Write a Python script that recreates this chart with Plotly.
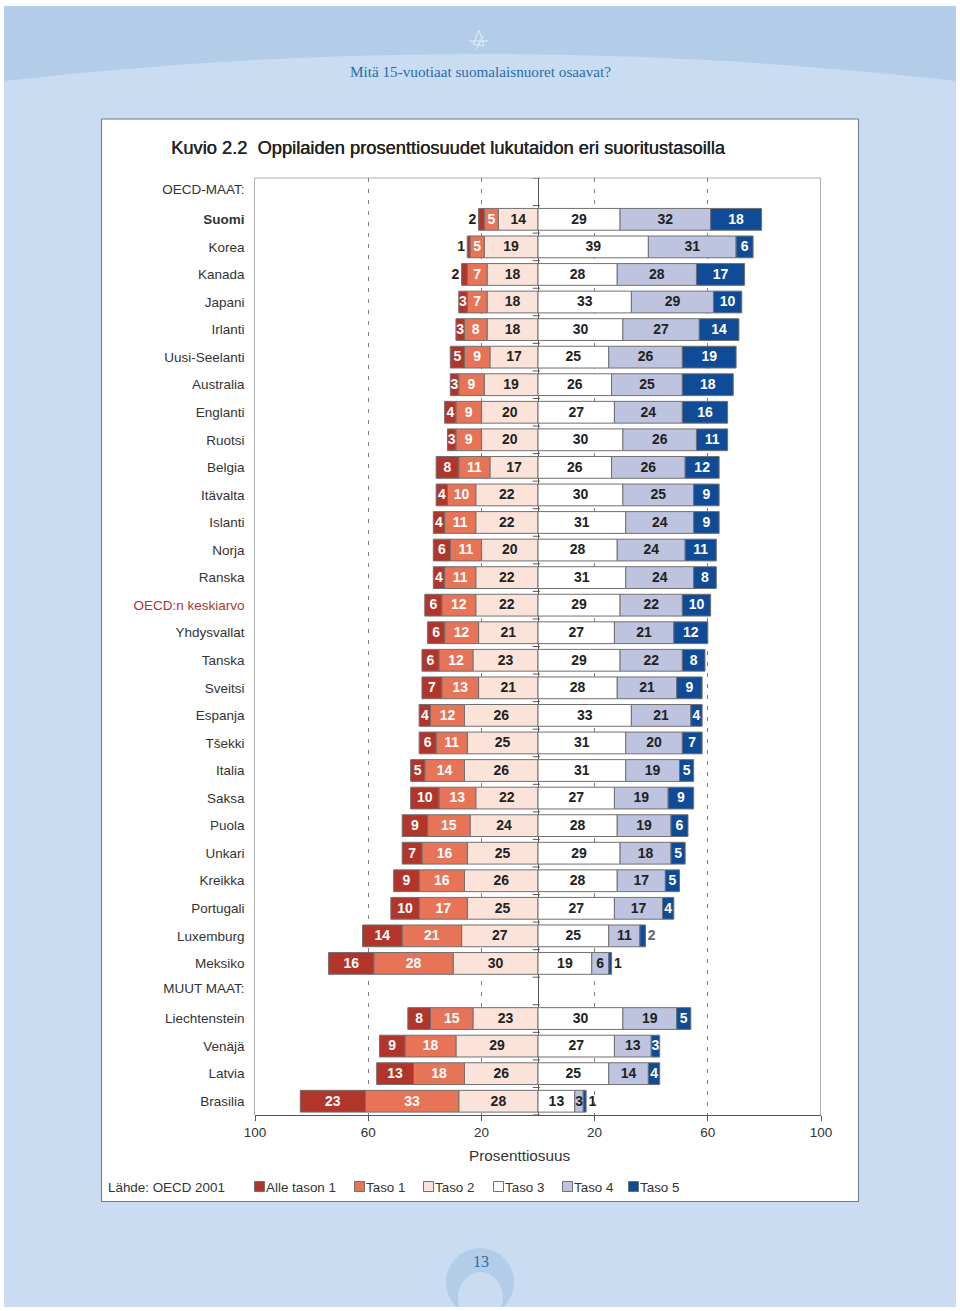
import plotly.graph_objects as go

countries = ["Suomi", "Korea", "Kanada", "Japani", "Irlanti", "Uusi-Seelanti", "Australia", "Englanti", "Ruotsi", "Belgia",
             "Itävalta", "Islanti", "Norja", "Ranska", "OECD:n keskiarvo", "Yhdysvallat", "Tanska", "Sveitsi", "Espanja",
             "Tšekki", "Italia", "Saksa", "Puola", "Unkari", "Kreikka", "Portugali", "Luxemburg", "Meksiko",
             "Liechtenstein", "Venäjä", "Latvia", "Brasilia"]
alle_tason_1 = [2, 1, 2, 3, 3, 5, 3, 4, 3, 8, 4, 4, 6, 4, 6, 6, 6, 7, 4, 6, 5, 10, 9, 7, 9, 10, 14, 16, 8, 9, 13, 23]
taso_1 = [5, 5, 7, 7, 8, 9, 9, 9, 9, 11, 10, 11, 11, 11, 12, 12, 12, 13, 12, 11, 14, 13, 15, 16, 16, 17, 21, 28, 15, 18, 18, 33]
taso_2 = [14, 19, 18, 18, 18, 17, 19, 20, 20, 17, 22, 22, 20, 22, 22, 21, 23, 21, 26, 25, 26, 22, 24, 25, 26, 25, 27, 30, 23, 29, 26, 28]
taso_3 = [29, 39, 28, 33, 30, 25, 26, 27, 30, 26, 30, 31, 28, 31, 29, 27, 29, 28, 33, 31, 31, 27, 28, 29, 28, 27, 25, 19, 30, 27, 25, 13]
taso_4 = [32, 31, 28, 29, 27, 26, 25, 24, 26, 26, 25, 24, 24, 24, 22, 21, 22, 21, 21, 20, 19, 19, 19, 18, 17, 17, 11, 6, 19, 13, 14, 3]
taso_5 = [18, 6, 17, 10, 14, 19, 18, 16, 11, 12, 9, 9, 11, 8, 10, 12, 8, 9, 4, 7, 5, 9, 6, 5, 5, 4, 2, 1, 5, 3, 4, 1]
series_names = ["Alle tason 1", "Taso 1", "Taso 2", "Taso 3", "Taso 4", "Taso 5"]
tick_values = [-100, -60, -20, 20, 60, 100]
tick_labels = ["100", "60", "20", "20", "60", "100"]

W, H = 960, 1311
FONT = "Liberation Sans"
COLORS = ["#B2352B", "#E87458", "#FBE3DA", "#FFFFFF", "#BEC4DF", "#0F4B96"]
EDGE = "#707070"
TEXTC = "#333333"
LIGHT = "#C9DCF2"
BAND = "#B3CDE9"

def px(x): return x / W
def py(y): return 1 - y / H

y_pos = list(range(1, 29)) + list(range(30, 34))
tick_y = [-0.1] + y_pos[:28] + [28.9] + y_pos[28:]
tick_text = ["OECD-MAAT:"]
for c in countries[:28]:
    if c == "Suomi":
        tick_text.append("<b>Suomi</b>")
    elif c.startswith("OECD"):
        tick_text.append('<span style="color:#A8392E">' + c + "</span>")
    else:
        tick_text.append(c)
tick_text.append("MUUT MAAT:")
tick_text += countries[28:]

fig = go.Figure()

left = [(2, taso_2), (1, taso_1), (0, alle_tason_1)]
right = [(3, taso_3), (4, taso_4), (5, taso_5)]
for idx, vals in left:
    fig.add_bar(y=y_pos, x=[-v for v in vals], orientation="h", width=0.79, name=series_names[idx],
                marker=dict(color=COLORS[idx], line=dict(color=EDGE, width=1)), hoverinfo="skip", showlegend=False)
for idx, vals in right:
    fig.add_bar(y=y_pos, x=vals, orientation="h", width=0.79, name=series_names[idx],
                marker=dict(color=COLORS[idx], line=dict(color=EDGE, width=1)), hoverinfo="skip", showlegend=False)

def labels(groups, sign):
    base = [0] * len(countries)
    for idx, vals in groups:
        xs, cols = [], []
        for i, v in enumerate(vals):
            outer = idx in (0, 5) and v <= 2
            if outer:
                xs.append(sign * (base[i] + v + 2.2))
                cols.append("#666666" if (idx == 5 and v == 2) else "#222222")
            else:
                xs.append(sign * (base[i] + v / 2))
                cols.append("#FFFFFF" if idx in (0, 1, 5) else "#222222")
            base[i] += v
        fig.add_scatter(x=xs, y=[y + 0.03 for y in y_pos], mode="text", text=[str(v) for v in vals],
                        textposition="middle center", hoverinfo="skip", showlegend=False,
                        textfont=dict(family=FONT, size=14, color=cols, weight=700))
labels(left, -1)
labels(right, 1)

fig.add_scatter(x=[-0.6] * 35, y=[i - 0.5 for i in range(35)], mode="markers", hoverinfo="skip", showlegend=False,
                marker=dict(symbol="line-ew", size=5, line=dict(color="#555555", width=1)))

shapes = [
    dict(type="rect", xref="paper", yref="paper", x0=px(4), x1=px(956), y0=py(6), y1=py(1307), fillcolor=LIGHT, line_width=0, layer="below"),
    dict(type="path", xref="paper", yref="paper", layer="below", fillcolor=BAND, line_width=0,
         path=f"M {px(4)},{py(6)} L {px(956)},{py(6)} L {px(956)},{py(81)} Q {px(480)},{py(27)} {px(4)},{py(81)} Z"),
    dict(type="circle", xref="paper", yref="paper", x0=px(446), x1=px(514), y0=py(1248), y1=py(1316), fillcolor=BAND, line_width=0, layer="below"),
    dict(type="circle", xref="paper", yref="paper", x0=px(458), x1=px(503), y0=py(1272), y1=py(1324), fillcolor=LIGHT, line_width=0, layer="below"),
    dict(type="rect", xref="paper", yref="paper", x0=0, x1=1, y0=py(1307), y1=0, fillcolor="#FFFFFF", line_width=0, layer="below"),
    dict(type="rect", xref="paper", yref="paper", x0=px(101.5), x1=px(858.5), y0=py(119), y1=py(1201.5), fillcolor="#FFFFFF",
         line=dict(color="#6B7B88", width=1), layer="below"),
    dict(type="path", xref="paper", yref="paper", layer="below", fillcolor="rgba(0,0,0,0)", line=dict(color="#B0B0B0", width=1),
         path=f"M {px(254.5)},{py(1115)} L {px(254.5)},{py(178)} L {px(820.5)},{py(178)} L {px(820.5)},{py(1115)}"),
    dict(type="path", xref="paper", yref="paper", layer="below", fillcolor="rgba(0,0,0,0)", line=dict(color="#E4EEF8", width=1),
         path=f"M {px(479)},{py(30)} L {px(473)},{py(44)} L {px(484)},{py(46)} L {px(479)},{py(30)} M {px(469)},{py(41)} L {px(488)},{py(41)} M {px(476)},{py(50)} L {px(483)},{py(36)}"),
]
annotations = [
    dict(text="Mitä 15-vuotiaat suomalaisnuoret osaavat?", x=px(480), y=py(71), xanchor="center", yanchor="middle",
         font=dict(family="Liberation Serif", size=15.2, color="#2B6CA6")),
    dict(text="Kuvio 2.2  Oppilaiden prosenttiosuudet lukutaidon eri suoritustasoilla", x=px(169), y=py(147.5), xanchor="left", yanchor="middle",
         font=dict(family=FONT, size=18.3, color="#222222", shadow="0.4px 0 0 #222222")),
    dict(text="Prosenttiosuus", x=px(519.5), y=py(1155), xanchor="center", yanchor="middle",
         font=dict(family=FONT, size=15.3, color=TEXTC)),
    dict(text="Lähde: OECD 2001", x=px(106), y=py(1187), xanchor="left", yanchor="middle",
         font=dict(family=FONT, size=13.4, color=TEXTC)),
    dict(text="13", x=px(480.5), y=py(1261), xanchor="center", yanchor="middle",
         font=dict(family="Liberation Serif", size=16, color="#2B6CA6")),
]
legend_x = [254, 354, 423, 493, 562, 628]
for name, c, lx in zip(series_names, COLORS, legend_x):
    shapes.append(dict(type="rect", xref="paper", yref="paper", x0=px(lx + 0.5), x1=px(lx + 10.5), y0=py(1181.5), y1=py(1191.5),
                       fillcolor=c, line=dict(color=EDGE, width=1)))
    annotations.append(dict(text=name, x=px(lx + 10), y=py(1187), xanchor="left", yanchor="middle",
                            font=dict(family=FONT, size=13.4, color=TEXTC)))
for a in annotations:
    a.update(xref="paper", yref="paper", showarrow=False)

fig.update_layout(
    width=W, height=H, margin=dict(l=0, r=0, t=0, b=0, autoexpand=False),
    paper_bgcolor="#FFFFFF", plot_bgcolor="rgba(0,0,0,0)",
    barmode="relative", showlegend=False, shapes=shapes, annotations=annotations,
    xaxis=dict(domain=[px(254.5), px(821)], range=[-100.18, 100.0], tickvals=tick_values, ticktext=tick_labels,
               ticks="outside", ticklen=5, tickcolor="#555555", showline=True, linecolor="#555555", linewidth=1,
               showgrid=True, gridcolor="#808080", griddash="4px,7px", gridwidth=1.3,
               zeroline=True, zerolinecolor="#555555", zerolinewidth=1,
               tickfont=dict(family=FONT, size=13.5, color=TEXTC), fixedrange=True),
    yaxis=dict(domain=[py(1115), py(178)], range=[33.5, -0.5], tickvals=tick_y, ticktext=tick_text,
               ticks="", showgrid=False, zeroline=False, showline=False, ticklabelstandoff=9,
               tickfont=dict(family=FONT, size=13.5, color=TEXTC), fixedrange=True),
)
fig.write_html("out.html", config={"displayModeBar": False}, post_script="document.body.style.margin='0';")
